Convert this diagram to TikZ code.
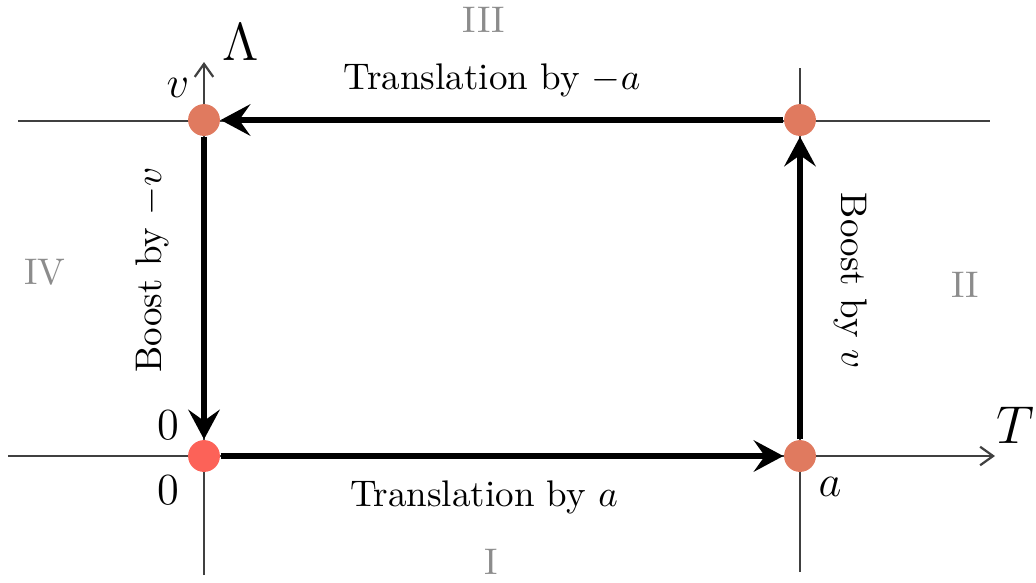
\documentclass[tikz,border=0pt]{standalone}
\usetikzlibrary{arrows.meta}
\begin{document}
\begin{tikzpicture}[x=0.27pt,y=-0.27pt,
  axis/.style={line width=0.6pt,draw=black!75},
  axisarrow/.style={axis,-{Straight Barb[length=3.5pt,width=5pt]}},
  move/.style={line width=1.5pt,-{Stealth[length=8pt,width=8.5pt,inset=3pt]}},
  dot/.style={circle,fill=dotc,minimum size=8.6pt,inner sep=0pt},
  region/.style={text=black!45},
  lab/.style={font=\large},
  biglab/.style={font=\Large}]
\definecolor{dotc}{RGB}{224,122,95}
\definecolor{dotz}{RGB}{252,98,88}
\useasboundingbox (0,0) rectangle (1036,582);
% axes and grid lines
\coordinate (xl) at (8,456);
\coordinate (xr) at (995,456);
\coordinate (yb) at (204,575);
\coordinate (yt) at (204,62);
\coordinate (tl) at (18,121);
\coordinate (tr) at (990,121);
\coordinate (rb) at (800,572);
\coordinate (rt) at (800,68);
\draw[axisarrow] (xl) -- (xr);
\draw[axisarrow] (yb) -- (yt);
\draw[axis] (tl) -- (tr);
\draw[axis] (rb) -- (rt);
% dots
\node[dot,fill=dotz] (o) at (204,456) {};
\node[dot] (a) at (800,456) {};
\node[dot] (b) at (800,120) {};
\node[dot] (v) at (204,120) {};
% moves
\draw[move] (o) -- (a);
\draw[move] (a) -- (b);
\draw[move] (b) -- (v);
\draw[move] (v) -- (o);
% labels
\node[biglab] (lam) at (241,42) {$\Lambda$};
\node[biglab] (tt) at (1015,425) {$T$};
\node[lab] (lv) at (178,88) {$v$};
\node[lab] (l0a) at (168,425) {$0$};
\node[lab] (l0b) at (168,490) {$0$};
\node[lab] (la) at (830,487) {$a$};
\node (t1) at (484,497) {Translation by $a$};
\node (t2) at (492,80) {Translation by $-a$};
\node[rotate=90] (b1) at (152,270) {Boost by $-v$};
\node[rotate=-90] (b2) at (851,281) {Boost by $v$};
\node[region] (r1) at (491,562) {I};
\node[region] (r2) at (965,285) {II};
\node[region] (r3) at (484,20) {III};
\node[region] (r4) at (45,272) {IV};
\end{tikzpicture}
\end{document}
